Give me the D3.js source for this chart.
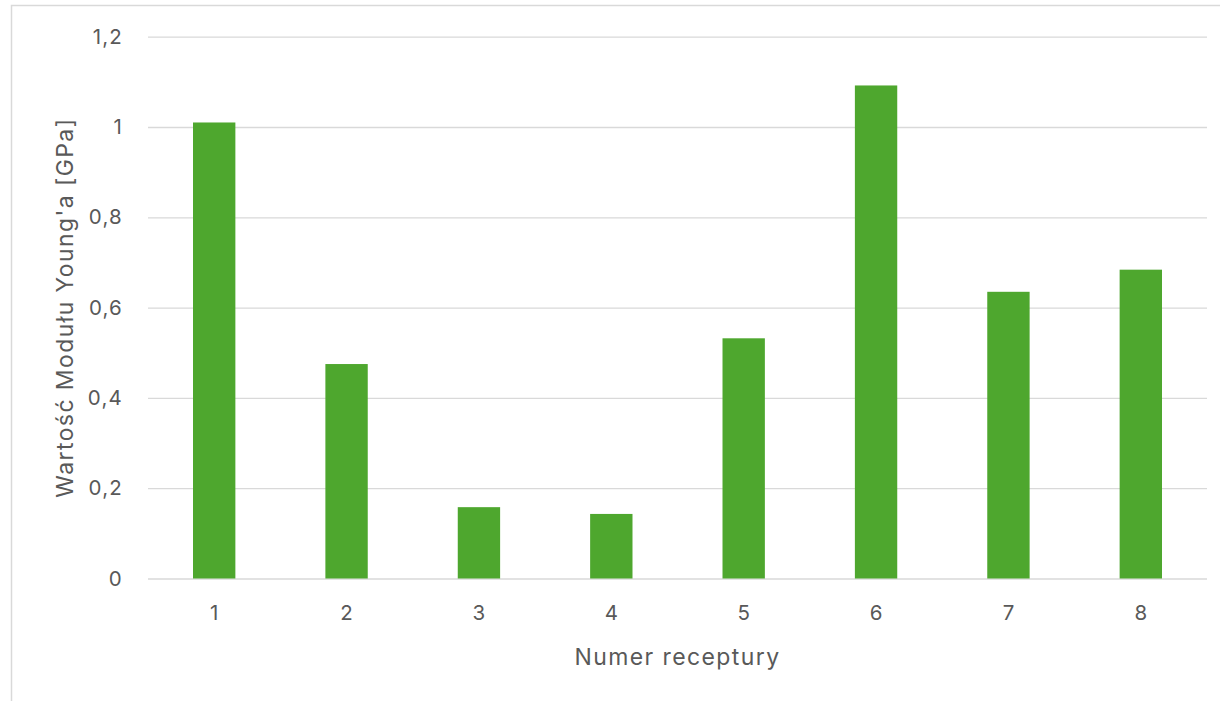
<!DOCTYPE html>
<html>
<head>
<meta charset="utf-8">
<script src="https://cdn.jsdelivr.net/npm/d3@7"></script>
<style>
  html, body { margin: 0; padding: 0; background: #ffffff; }
  svg { display: block; }
  text { font-family: Inter, "Open Sans", sans-serif; fill: #595959; }
</style>
</head>
<body>
<svg id="chart" width="1220" height="701"></svg>
<script>
// Young's modulus per recipe
const categories = ["1", "2", "3", "4", "5", "6", "7", "8"];
const values = [1.01, 0.475, 0.158, 0.143, 0.532, 1.092, 0.635, 0.684];
const yTicks = [0, 0.2, 0.4, 0.6, 0.8, 1, 1.2];
const xTitle = "Numer receptury";
const yTitle = "Wartość Modułu Young'a [GPa]";

const svg = d3.select("#chart");
const W = 1220, H = 701;
const plot = { left: 148, right: 1207, top: 36.7, bottom: 578.5 };
const tickFont = 20.5;
const titleFont = 23;

// chart area frame (continues past the right and bottom edges)
svg.append("path")
  .attr("d", `M11.5,${H + 2}V5.5H${W + 2}`)
  .attr("fill", "none")
  .attr("stroke", "#d9d9d9")
  .attr("stroke-width", 1.5);

const x = d3.scaleBand()
  .domain(categories)
  .range([plot.left, plot.right])
  .paddingInner(0.68)
  .paddingOuter(0.34);

const y = d3.scaleLinear()
  .domain([0, 1.2])
  .range([plot.bottom, plot.top]);

const fmt = v => String(v).replace(".", ",");

// horizontal gridlines with value labels
const yAxis = d3.axisLeft(y)
  .tickValues(yTicks)
  .tickFormat(fmt)
  .tickSize(-(plot.right - plot.left))
  .tickPadding(25);

const gy = svg.append("g")
  .attr("transform", `translate(${plot.left},0)`)
  .call(yAxis);
gy.select(".domain").remove();
gy.selectAll(".tick line").attr("stroke", "#d9d9d9").attr("stroke-width", 1.3);
gy.selectAll(".tick text")
  .attr("font-size", tickFont)
  .attr("letter-spacing", 1.2)
  .attr("fill", "#595959")
  .style("font-family", "Inter, sans-serif");

// bars
svg.append("g")
  .selectAll("rect")
  .data(values)
  .join("rect")
  .attr("x", (d, i) => x(categories[i]))
  .attr("width", x.bandwidth())
  .attr("y", d => y(d))
  .attr("height", d => y(0) - y(d))
  .attr("fill", "#4ea72e");

// category axis
const xAxis = d3.axisBottom(x).tickSize(0).tickPadding(27);
const gx = svg.append("g")
  .attr("transform", `translate(0,${plot.bottom})`)
  .call(xAxis);
gx.select(".domain").remove();
gx.selectAll(".tick text")
  .attr("font-size", tickFont)
  .attr("fill", "#595959")
  .style("font-family", "Inter, sans-serif");

// axis titles
svg.append("text")
  .attr("x", (plot.left + plot.right) / 2)
  .attr("y", 657)
  .attr("text-anchor", "middle")
  .attr("dominant-baseline", "central")
  .attr("font-size", titleFont)
  .attr("letter-spacing", 1.4)
  .text(xTitle);

svg.append("text")
  .attr("transform", `translate(65,${(plot.top + plot.bottom) / 2}) rotate(-90)`)
  .attr("text-anchor", "middle")
  .attr("dominant-baseline", "central")
  .attr("font-size", titleFont)
  .attr("letter-spacing", 1.4)
  .text(yTitle);
</script>
</body>
</html>
